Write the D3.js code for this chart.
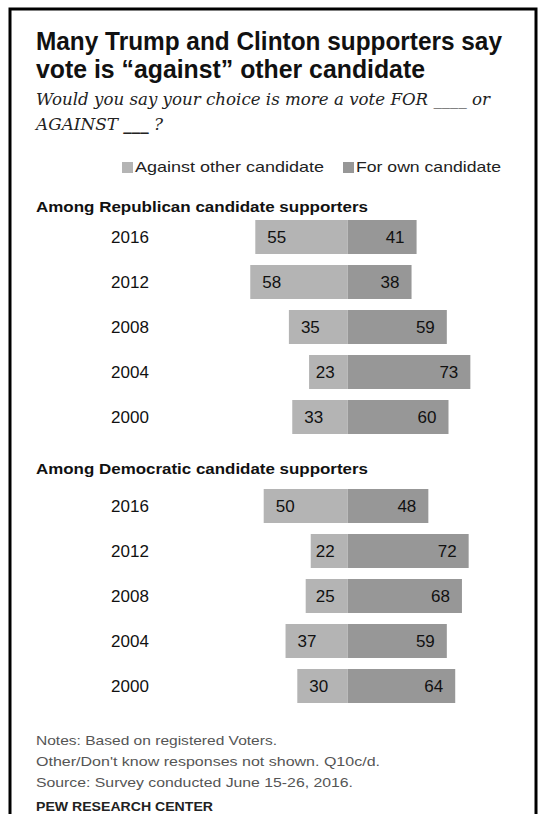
<!DOCTYPE html>
<html>
<head>
<meta charset="utf-8">
<script src="https://cdn.jsdelivr.net/npm/d3@7"></script>
<style>
  body { margin: 0; background: #fff; }
  svg { display: block; }
</style>
</head>
<body>
<div id="chart"></div>
<script>
// data
var years = ["2016", "2012", "2008", "2004", "2000"];
var repAgainst = [55, 58, 35, 23, 33];
var repFor = [41, 38, 59, 73, 60];
var demAgainst = [50, 22, 25, 37, 30];
var demFor = [48, 72, 68, 59, 64];
var groupTitles = ["Among Republican candidate supporters", "Among Democratic candidate supporters"];
var seriesNames = ["Against other candidate", "For own candidate"];
var colors = ["#b4b4b4", "#979797"];

var svgWidth = 542;
var svgHeight = 814;

var svg = d3.select("#chart")
  .append("svg")
  .attr("width", svgWidth)
  .attr("height", svgHeight);

// helper: squeeze/stretch text to the width it has in the picture
function fit(sel, w) {
  var len = sel.node().getComputedTextLength();
  if (Math.abs(len - w) > 1) {
    sel.attr("textLength", w).attr("lengthAdjust", "spacingAndGlyphs");
  }
  return sel;
}

// frame
svg.append("rect")
  .attr("x", 10).attr("y", 9)
  .attr("width", 526).attr("height", 850)
  .attr("fill", "none")
  .attr("stroke", "#000")
  .attr("stroke-width", 3);

var sans = "'Liberation Sans', Arial, sans-serif";

// title
fit(svg.append("text").attr("x", 36).attr("y", 50)
  .attr("font-family", sans).attr("font-weight", "bold").attr("font-size", 26)
  .attr("fill", "#111")
  .text("Many Trump and Clinton supporters say"), 466);
fit(svg.append("text").attr("x", 36).attr("y", 78)
  .attr("font-family", sans).attr("font-weight", "bold").attr("font-size", 26)
  .attr("fill", "#111")
  .text("vote is \u201cagainst\u201d other candidate"), 389);

// subtitle
var serif = "'DejaVu Serif', 'Liberation Serif', serif";
fit(svg.append("text").attr("x", 36).attr("y", 105)
  .attr("font-family", serif).attr("font-style", "italic").attr("font-size", 16)
  .attr("fill", "#222")
  .text("Would you say your choice is more a vote FOR ____ or"), 454);
var sub2 = svg.append("text").attr("x", 36).attr("y", 130)
  .attr("font-family", serif).attr("font-style", "italic").attr("font-size", 16)
  .attr("fill", "#222");
sub2.append("tspan").text("AGAINST ");
sub2.append("tspan").attr("font-weight", "bold").text("___");
sub2.append("tspan").text(" ?");
fit(sub2, 127);

// legend
var legendX = [122, 343];
var legendW = [189, 145];
seriesNames.forEach(function(name, i) {
  svg.append("rect")
    .attr("x", legendX[i]).attr("y", 162)
    .attr("width", 11).attr("height", 11)
    .attr("fill", colors[i]);
  fit(svg.append("text")
    .attr("x", legendX[i] + 13).attr("y", 172)
    .attr("font-family", sans).attr("font-size", 15)
    .attr("fill", "#222")
    .text(name), legendW[i]);
});

// scales
var x = d3.scaleLinear()
  .domain([-100, 100])
  .range([347.7 - 168, 347.7 + 168]);

var groups = [
  { title: groupTitles[0], against: repAgainst, pro: repFor, head: 212, top: 220 },
  { title: groupTitles[1], against: demAgainst, pro: demFor, head: 474, top: 489 }
];

groups.forEach(function(g) {
  fit(svg.append("text").attr("x", 36).attr("y", g.head)
    .attr("font-family", sans).attr("font-weight", "bold").attr("font-size", 15)
    .attr("fill", "#111")
    .text(g.title), 332);

  var y = d3.scaleBand()
    .domain(years)
    .range([g.top, g.top + 4 * 45 + 34])
    .paddingInner(11 / 45)
    .paddingOuter(0);

  var rows = years.map(function(yr, i) {
    return { year: yr, against: g.against[i], pro: g.pro[i] };
  });

  var row = svg.append("g").selectAll("g")
    .data(rows)
    .enter().append("g");

  // year labels
  row.append("text")
    .attr("x", 130)
    .attr("y", d => y(d.year) + y.bandwidth() / 2)
    .attr("dy", "0.35em")
    .attr("text-anchor", "middle")
    .attr("font-family", sans).attr("font-size", 17)
    .attr("fill", "#111")
    .text(d => d.year);

  // against bars
  row.append("rect")
    .attr("x", d => x(-d.against))
    .attr("y", d => y(d.year))
    .attr("width", d => x(0) - x(-d.against))
    .attr("height", y.bandwidth())
    .attr("fill", colors[0]);

  // for bars
  row.append("rect")
    .attr("x", x(0))
    .attr("y", d => y(d.year))
    .attr("width", d => x(d.pro) - x(0))
    .attr("height", y.bandwidth())
    .attr("fill", colors[1]);

  // for labels
  row.append("text")
    .attr("x", d => x(d.pro) - 12)
    .attr("y", d => y(d.year) + y.bandwidth() / 2)
    .attr("dy", "0.35em")
    .attr("text-anchor", "end")
    .attr("font-family", sans).attr("font-size", 17)
    .attr("fill", "#111")
    .text(d => d.pro);

  // against labels
  row.append("text")
    .attr("y", d => y(d.year) + y.bandwidth() / 2)
    .attr("dy", "0.35em")
    .attr("font-family", sans).attr("font-size", 17)
    .attr("fill", "#111")
    .text(d => d.against)
    .attr("x", function(d) {
      var w = this.getComputedTextLength();
      return Math.min(x(-d.against) + 12, x(0) - 13 - w);
    });
});

// notes
var notes = [
  "Notes: Based on registered Voters.",
  "Other/Don't know responses not shown. Q10c/d.",
  "Source: Survey conducted June 15-26, 2016."
];
var noteW = [241, 344, 317];
notes.forEach(function(n, i) {
  fit(svg.append("text")
    .attr("x", 36).attr("y", 745 + i * 21)
    .attr("font-family", sans).attr("font-size", 13.5)
    .attr("fill", "#555")
    .text(n), noteW[i]);
});

fit(svg.append("text")
  .attr("x", 36).attr("y", 811)
  .attr("font-family", sans).attr("font-weight", "bold").attr("font-size", 12)
  .attr("fill", "#222")
  .text("PEW RESEARCH CENTER"), 177);
</script>
</body>
</html>
